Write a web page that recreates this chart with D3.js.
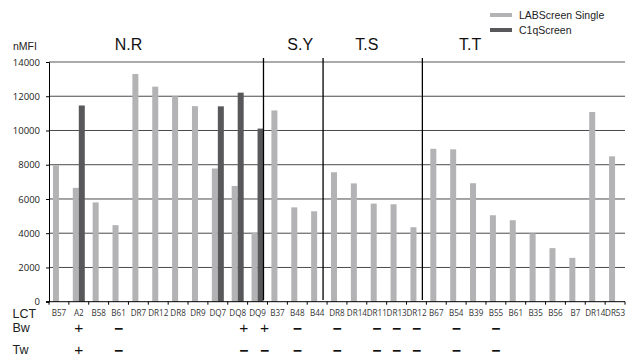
<!DOCTYPE html>
<html>
<head>
<meta charset="utf-8">
<script src="https://cdn.jsdelivr.net/npm/d3@7"></script>
<style>
  body { margin: 0; background: #fff; }
  svg text { font-family: "Liberation Sans", Arial, sans-serif; }
</style>
</head>
<body>
<svg id="chart" width="631" height="358"></svg>
<script>
// ---- data ----
const categories = ["B57","A2","B58","B61","DR7","DR12","DR8","DR9","DQ7","DQ8","DQ9",
  "B37","B48","B44","DR8","DR14","DR11","DR13","DR12",
  "B67","B54","B39","B55","B61","B35","B56","B7","DR14","DR53"];
const labScreen = [7970, 6650, 5800, 4470, 13300, 12560, 12000, 11420, 7780, 6760, 4030,
  11170, 5510, 5280, 7560, 6910, 5730, 5690, 4350,
  8930, 8900, 6920, 5050, 4760, 3990, 3130, 2560, 11080, 8490];
const c1qScreen = [null, 11460, null, null, null, null, null, null, 11410, 12210, 10110,
  null, null, null, null, null, null, null, null,
  null, null, null, null, null, null, null, null, null, null];
const yTicks = [0, 2000, 4000, 6000, 8000, 10000, 12000, 14000];
const seriesNames = ["LABScreen Single", "C1qScreen"];
const groupNames = ["N.R", "S.Y", "T.S", "T.T"];
const groupStarts = [0, 11, 14, 19];
const bwMarks = ["", "+", "", "−", "", "", "", "", "", "+", "+",
  "", "−", "", "−", "", "−", "−", "−",
  "", "−", "", "−", "", "", "", "", "", ""];
const twMarks = ["", "+", "", "−", "", "", "", "", "", "−", "−",
  "", "−", "", "−", "", "−", "−", "−",
  "", "−", "", "−", "", "", "", "", "", ""];
const rowNames = ["LCT", "Bw", "Tw"];

// ---- layout ----
const svg = d3.select("#chart");
const plot = { left: 49, right: 625, top: 62, bottom: 301.7 };
const colors = ["#b3b3b5", "#58585a"];
const titleSlots = [4.0, 12.65, 16.0, 21.2];
const markShift = { 9: 6, 10: 7 };   // DQ8 / DQ9 marks sit a little to the right

const idx = d3.range(categories.length);
const x = d3.scaleBand().domain(idx).range([plot.left, plot.right])
  .paddingInner(0.396).paddingOuter(0.198);
const step = x.step();
const boundary = i => plot.left + i * step;
const xs = d3.scaleBand().domain([0, 1]).range([0, x.bandwidth()]);
const y = d3.scaleLinear().domain([0, 14000]).range([plot.bottom, plot.top]);

// gridlines
svg.append("g").selectAll("line").data(yTicks.filter(v => v > 0)).join("line")
  .attr("x1", plot.left).attr("x2", plot.right)
  .attr("y1", d => y(d)).attr("y2", d => y(d))
  .attr("stroke", d => d === 14000 ? "#aaaaaa" : "#4a4a4a")
  .attr("stroke-width", d => d === 14000 ? 2 : 1);

// bars
const series = [labScreen, c1qScreen];
series.forEach((vals, s) => {
  svg.append("g").selectAll("rect")
    .data(idx.filter(i => vals[i] != null)).join("rect")
    .attr("x", i => x(i) + xs(s))
    .attr("width", xs.bandwidth())
    .attr("y", i => y(vals[i]))
    .attr("height", i => y(0) - y(vals[i]))
    .attr("fill", colors[s]);
});

// group separators
svg.append("g").selectAll("line").data(groupStarts.slice(1)).join("line")
  .attr("x1", d => boundary(d) - 4).attr("x2", d => boundary(d) - 4)
  .attr("y1", 58).attr("y2", 300)
  .attr("stroke", "#000").attr("stroke-width", 1.3);

// y axis
const yAxis = svg.append("g").attr("transform", `translate(${plot.left},0)`)
  .call(d3.axisLeft(y).tickValues(yTicks).tickSize(3).tickPadding(6).tickFormat(d3.format("d")));
yAxis.select(".domain").attr("stroke", "#000");
yAxis.selectAll(".tick line").attr("stroke", "#000");
yAxis.selectAll("text").style("font-family", "'Open Sans', sans-serif")
  .style("font-size", "9.5px").attr("fill", "#222");

// x axis: category boundaries as ticks, labels at centres
svg.append("line").attr("x1", plot.left - 3).attr("x2", plot.right)
  .attr("y1", plot.bottom).attr("y2", plot.bottom).attr("stroke", "#000");
svg.append("g").selectAll("line").data(d3.range(categories.length + 1)).join("line")
  .attr("x1", boundary).attr("x2", boundary)
  .attr("y1", plot.bottom).attr("y2", plot.bottom + 3).attr("stroke", "#000");
const xAxis = svg.append("g").attr("transform", `translate(0,${plot.bottom})`)
  .call(d3.axisBottom(x).tickSize(0).tickPadding(9).tickFormat(i => categories[i]));
xAxis.select(".domain").remove();
xAxis.selectAll("text").style("font-family", "'Open Sans', sans-serif")
  .style("font-size", "8.1px").attr("fill", "#333");

// group titles
svg.append("g").selectAll("text").data(groupNames).join("text")
  .attr("x", (d, i) => plot.left + titleSlots[i] * step).attr("y", 50)
  .attr("text-anchor", "middle").style("font-size", "16px").attr("fill", "#111")
  .text(d => d);

// y unit
svg.append("text").attr("x", 13).attr("y", 50).style("font-size", "10.5px")
  .attr("fill", "#222").text("nMFI");

// legend
const legend = svg.append("g");
seriesNames.forEach((name, s) => {
  legend.append("rect").attr("x", 490).attr("y", 13 + s * 15).attr("width", 22).attr("height", 4)
    .attr("fill", colors[s]);
  legend.append("text").attr("x", 519).attr("y", 18.5 + s * 15).style("font-size", "10.5px")
    .attr("fill", "#222").text(name);
});

// row captions
const rowY = [318, 332, 353.5];
svg.append("g").selectAll("text").data(rowNames).join("text")
  .attr("x", 12.5).attr("y", (d, i) => rowY[i]).style("font-size", "12.5px")
  .attr("fill", "#222").text(d => d);

// Bw / Tw marks
[[bwMarks, 333], [twMarks, 354.5]].forEach(([marks, yy]) => {
  svg.append("g").selectAll("text").data(idx.filter(i => marks[i])).join("text")
    .attr("x", i => x(i) + x.bandwidth() / 2 + (markShift[i] || 0))
    .attr("y", i => yy + (marks[i] === "−" ? 1 : 0))
    .attr("text-anchor", "middle")
    .style("font-size", "15.5px")
    .style("font-weight", i => marks[i] === "−" ? "bold" : "normal")
    .attr("fill", "#111")
    .text(i => marks[i]);
});
</script>
</body>
</html>
